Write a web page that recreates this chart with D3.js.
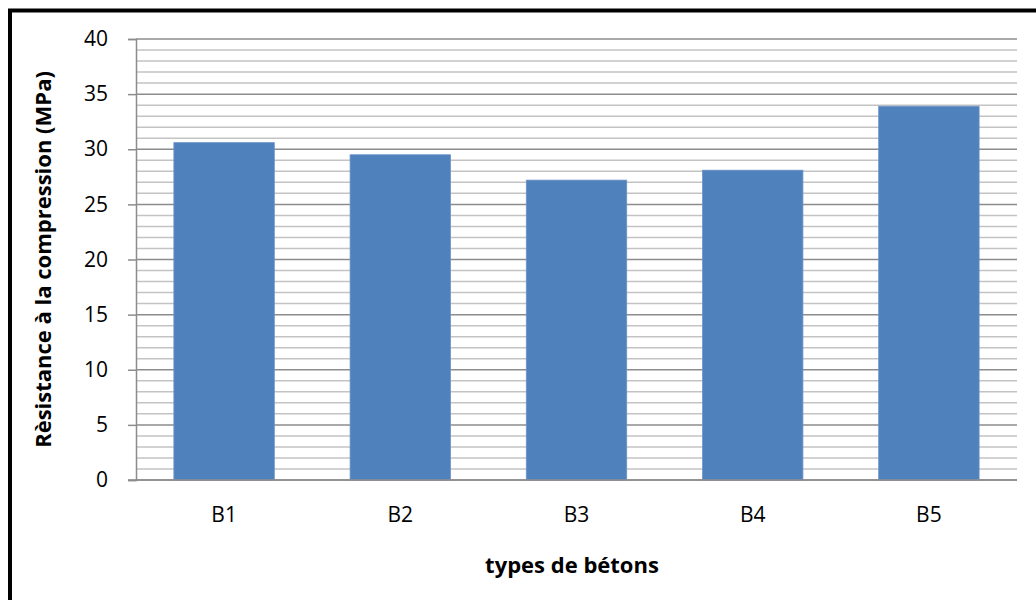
<!DOCTYPE html>
<html>
<head>
<meta charset="utf-8">
<script src="https://cdnjs.cloudflare.com/ajax/libs/d3/7.8.5/d3.min.js"></script>
<style>
  body { margin: 0; background: #fff; }
  svg { display: block; font-family: "Open Sans", sans-serif; }
</style>
</head>
<body>
<svg width="1036" height="600"></svg>
<script>
var categories = ["B1", "B2", "B3", "B4", "B5"];
var values = [30.6, 29.5, 27.2, 28.1, 33.9];
var yTicks = [0, 5, 10, 15, 20, 25, 30, 35, 40];
var minorTicks = d3.range(0, 41, 1);
var xTitle = "types de bétons";
var yTitle = "Rèsistance à la compression (MPa)";

var svg = d3.select("svg");

// outer frame (right and bottom sides run past the picture)
svg.append("rect")
   .attr("x", 10)
   .attr("y", 10.5)
   .attr("width", 1040)
   .attr("height", 610)
   .attr("fill", "none")
   .attr("stroke", "#000")
   .attr("stroke-width", 4);

// note: "top" is taken by window.top, so use other names
var plotLeft = 136, plotRight = 1017, plotTop = 39, plotBottom = 480;

var xScale = d3.scaleBand().domain(categories).range([plotLeft, plotRight]).paddingInner(0.43).paddingOuter(0.215),
    yScale = d3.scaleLinear().domain([0, 40]).range([plotBottom, plotTop]);

var g = svg.append("g");

// minor gridlines
g.selectAll(".minor")
 .data(minorTicks.filter(function(d) { return d % 5 != 0; }))
 .enter().append("line")
 .attr("x1", plotLeft).attr("x2", plotRight)
 .attr("y1", function(d) { return yScale(d); })
 .attr("y2", function(d) { return yScale(d); })
 .attr("stroke", "#c3c3c3")
 .attr("stroke-width", 1.5);

// major gridlines
g.selectAll(".major")
 .data(yTicks)
 .enter().append("line")
 .attr("x1", plotLeft).attr("x2", plotRight)
 .attr("y1", function(d) { return yScale(d); })
 .attr("y2", function(d) { return yScale(d); })
 .attr("stroke", "#8c8c8c")
 .attr("stroke-width", 1.5);

// bars
g.selectAll(".bar")
 .data(values)
 .enter().append("rect")
 .attr("class", "bar")
 .attr("x", function(d, i) { return xScale(categories[i]); })
 .attr("y", function(d) { return yScale(d); })
 .attr("width", xScale.bandwidth())
 .attr("height", function(d) { return plotBottom - yScale(d); })
 .attr("fill", "#4f81bd")
 .attr("stroke", "#6b95c8")
 .attr("stroke-width", 0.8);

// y axis
var yAxis = svg.append("g")
   .attr("transform", "translate(" + plotLeft + ",0)")
   .call(d3.axisLeft(yScale).tickValues(yTicks).tickSize(8).tickPadding(20));
yAxis.select(".domain").attr("stroke", "#8c8c8c").attr("stroke-width", 1.5);
yAxis.selectAll(".tick line").attr("stroke", "#8c8c8c").attr("stroke-width", 1.5);
yAxis.selectAll("text").attr("font-size", "21px").attr("fill", "#000").attr("font-family", "Open Sans");

// x axis
var xAxis = svg.append("g")
   .attr("transform", "translate(0," + plotBottom + ")")
   .call(d3.axisBottom(xScale).tickSize(0).tickPadding(27));
xAxis.select(".domain").attr("stroke", "#8c8c8c").attr("stroke-width", 1.5)
   .attr("d", "M" + (plotLeft - 8) + ",0H" + plotRight);
xAxis.selectAll("text").attr("font-size", "21px").attr("fill", "#000").attr("font-family", "Open Sans");

svg.append("text")
   .attr("x", 572)
   .attr("y", 573)
   .attr("text-anchor", "middle")
   .attr("font-size", "22px")
   .attr("font-weight", "bold")
   .text(xTitle);

svg.append("text")
   .attr("transform", "translate(51," + ((plotTop + plotBottom) / 2) + ") rotate(-90)")
   .attr("text-anchor", "middle")
   .attr("font-size", "22px")
   .attr("font-weight", "bold")
   .text(yTitle);
</script>
</body>
</html>
